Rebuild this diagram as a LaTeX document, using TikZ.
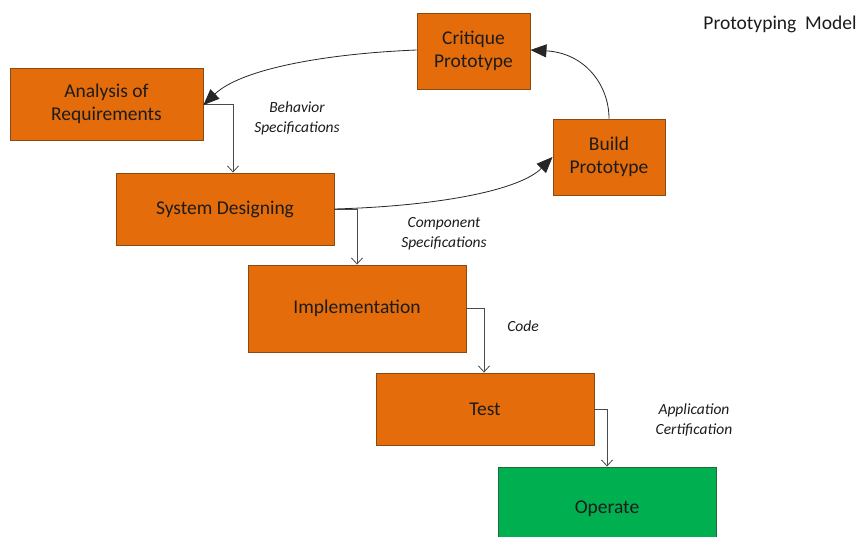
\documentclass[tikz,border=0pt]{standalone}
\usepackage{fontspec}
\setmainfont{Carlito}
\usetikzlibrary{arrows.meta}
\definecolor{orfill}{HTML}{E46C0A}
\definecolor{ordraw}{HTML}{8A4A14}
\definecolor{grfill}{HTML}{00B050}
\definecolor{grdraw}{HTML}{1E6B3A}
\definecolor{txt}{HTML}{1C1C1C}
\definecolor{lnk}{HTML}{4A4A4A}
\tikzset{
  box/.style={draw=ordraw, fill=orfill, line width=0.9pt, align=center, text=txt,
              font=\fontsize{19.5}{23.5}\selectfont, inner sep=0pt},
  gbox/.style={box, draw=grdraw, fill=grfill},
  lab/.style={font=\fontsize{15.5}{20}\selectfont\itshape, align=center, text=txt},
  flow/.style={draw=lnk, line width=0.8pt, -{Straight Barb[length=6pt,width=11pt]}},
  loop/.style={draw=black!85, line width=0.8pt, -{Triangle[length=16pt,width=13pt]}}
}
\begin{document}
\begin{tikzpicture}[x=1pt,y=-1pt]
\clip (0,0) rectangle (862,537);
\fill[white] (0,0) rectangle (862,537);
\node[box, minimum width=113pt, minimum height=76pt] (crit) at (473.5,51) {Critique\\Prototype};
\node[box, minimum width=193pt, minimum height=72pt] (ana) at (106.5,104) {Analysis of\\Requirements};
\node[box, minimum width=112pt, minimum height=76pt] (build) at (609,157) {Build\\Prototype};
\node[box, minimum width=218pt, minimum height=72pt] (sys) at (225,209) {System Designing};
\node[box, minimum width=218pt, minimum height=87pt] (impl) at (357,308.5) {Implementation};
\node[box, minimum width=218pt, minimum height=72pt] (test) at (485,409) {Test};
\node[gbox, minimum width=218pt, minimum height=84pt] (op) at (607,509) {Operate};
\node[font=\fontsize{19.5}{22}\selectfont, text=txt] (title) at (780,24) {Prototyping\ \ Model};
\node[lab] (lbeh) at (297,118) {Behavior\\Specifications};
\node[lab] (lcomp) at (444,234) {Component\\Specifications};
\node[lab] (lcode) at (523,326) {Code};
\node[lab] (lapp) at (694,420) {Application\\Certification};
\draw[flow] (ana.east) -| ([xshift=8pt]sys.north);
\draw[flow] (sys.east) -| (impl.north);
\draw[flow] (impl.east) -| ([xshift=-1pt]test.north);
\draw[flow] (test.east) -| (op.north);
\draw[loop] (sys.east) .. controls (440,206) and (520,190) .. (build.west);
\draw[loop] (build.north) .. controls (609,85) and (585,53) .. ([yshift=1pt]crit.east);
\draw[loop] ([yshift=1pt]crit.west) .. controls (320,54) and (240,70) .. ([yshift=-1pt]ana.east);
\end{tikzpicture}
\end{document}
